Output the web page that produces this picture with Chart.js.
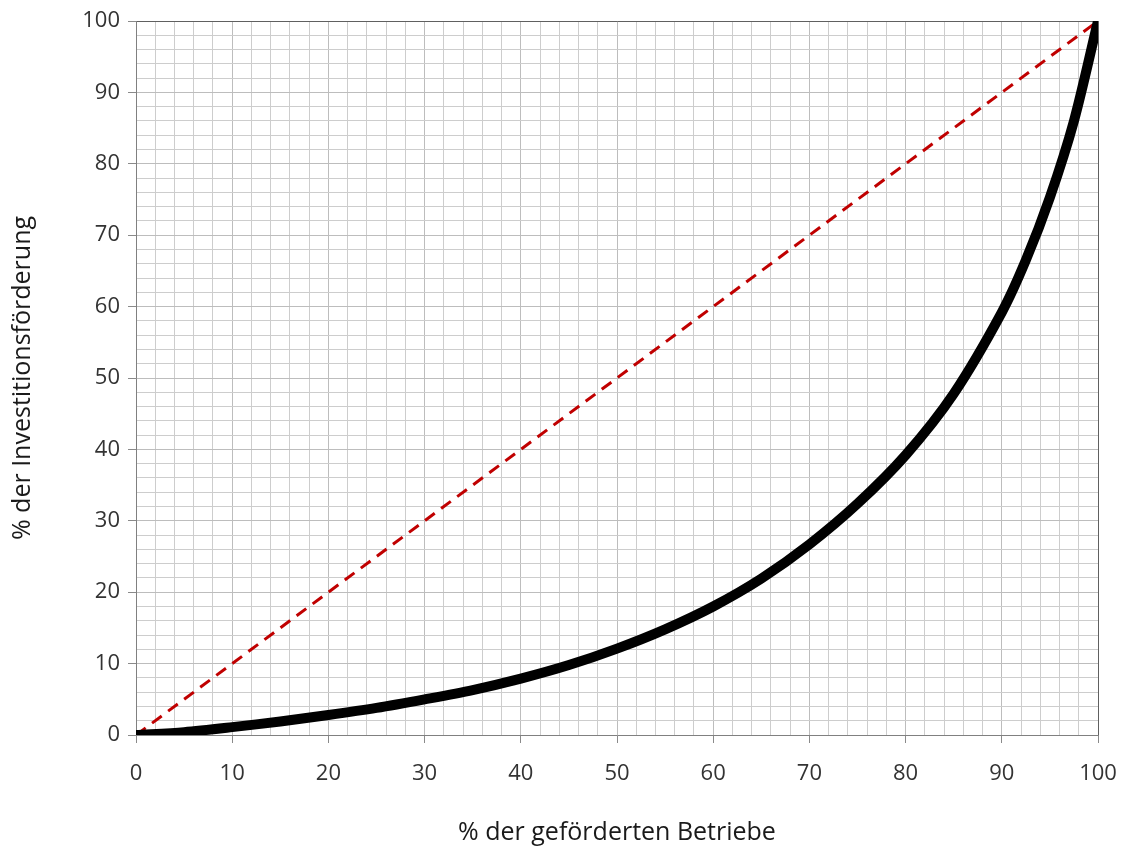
<!DOCTYPE html>
<html><head><meta charset="utf-8">
<script src="https://cdn.jsdelivr.net/npm/chart.js@4"></script>
<style>html,body{margin:0;padding:0;background:#fff}</style>
</head><body>
<canvas id="c" width="1124" height="848"></canvas>
<script>
const xValues = [0,5,10,15,20,25,30,35,40,45,50,55,60,65,70,75,80,85,90,92.5,95,97.5,100];
const lorenzValues = [0,0.4,1.1,1.9,2.8,3.8,5.0,6.3,7.9,9.8,12.1,14.8,18.0,21.9,26.7,32.4,39.2,47.8,59.2,66.5,75.3,86.0,100];
const equalityX = [0,100];
const equalityY = [0,100];
const xTitle = '% der geförderten Betriebe';
const yTitle = '% der Investitionsförderung';

const font = "'Open Sans', 'Noto Sans', sans-serif";
const gridColor = ctx => {
  const v = ctx.tick ? ctx.tick.value : 0;
  if (v === 100) return '#606060';
  return v % 10 === 0 ? '#bdbdbd' : '#cdcdcd';
};
const tickColor = ctx => (ctx.tick && ctx.tick.value % 10 === 0) ? '#8a8a8a' : 'rgba(0,0,0,0)';

new Chart(document.getElementById('c'), {
  type: 'line',
  data: {
    datasets: [
      {
        data: xValues.map((x,i)=>({x, y: lorenzValues[i]})),
        borderColor: '#000', borderWidth: 10, pointRadius: 0,
        tension: 0.3, order: 0, borderCapStyle: 'round', borderJoinStyle: 'round'
      },
      {
        data: equalityX.map((x,i)=>({x, y: equalityY[i]})),
        borderColor: '#c00000', borderWidth: 3, borderDash: [12,8], pointRadius: 0, order: 1
      }
    ]
  },
  options: {
    responsive: false, animation: false,
    layout: { padding: { top: 21, right: 26, left: 0, bottom: 0 } },
    plugins: { legend: { display: false }, tooltip: { enabled: false } },
    scales: {
      x: {
        type: 'linear', min: 0, max: 100,
        ticks: { stepSize: 2, autoSkip: false, maxRotation: 0, color: '#333', font: { family: font, size: 22 },
          callback: v => v % 10 === 0 ? String(v) : '' , padding: 18},
        grid: { color: gridColor, tickColor: tickColor, tickLength: 8, lineWidth: 1 },
        border: { color: '#808080', width: 1 },
        title: { display: true, text: xTitle, color: '#1a1a1a', font: { family: font, size: 25 }, padding: { top: 20, bottom: 0 } },
        afterFit: s => { s.height = 113; s.paddingRight = 0; s.paddingLeft = 0; }
      },
      y: {
        type: 'linear', min: 0, max: 100,
        ticks: { stepSize: 2, autoSkip: false, color: '#333', font: { family: font, size: 22 },
          callback: v => v % 10 === 0 ? String(v) : '', padding: 8 },
        grid: { color: gridColor, tickColor: tickColor, tickLength: 8, lineWidth: 1 },
        border: { color: '#808080', width: 1 },
        title: { display: true, text: yTitle, color: '#1a1a1a', font: { family: font, size: 25 }, padding: { top: 8, bottom: 10 } },
        afterFit: s => { s.width = 136; s.paddingTop = 0; s.paddingBottom = 0; }
      }
    }
  }
});
</script>
</body></html>
